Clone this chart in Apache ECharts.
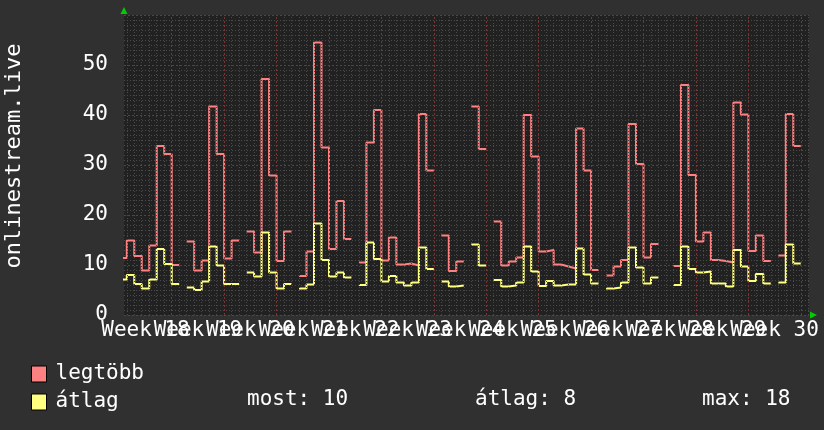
<!DOCTYPE html>
<html>
<head>
<meta charset="utf-8">
<script src="https://cdn.jsdelivr.net/npm/echarts@6/dist/echarts.min.js"></script>
<style>
html,body{margin:0;padding:0;background:#303030;}
#c{width:824px;height:430px;}
</style>
</head>
<body>
<div id="c"></div>
<script>
// daily values, index = day (day 0 starts at the week-18 boundary)
const legtobb = [11.4,14.9,11.8,8.9,13.9,33.8,32.2,10.0,null,
  14.7,8.9,10.9,41.7,32.2,11.3,14.9,null,
  16.7,12.5,47.2,27.9,10.8,16.7,null,
  7.8,12.7,54.5,33.5,13.2,22.8,15.2,null,
  10.5,34.5,41.0,10.9,15.5,10.1,10.3,9.9,40.2,28.9,null,
  15.9,8.8,10.7,null,
  41.7,33.2,null,
  18.7,9.9,10.7,11.5,40.0,31.7,12.7,13.0,10.1,9.7,9.3,37.3,28.9,9.0,null,
  7.9,9.7,11.0,38.2,30.2,11.5,14.2,null,null,
  9.8,46.0,28.0,14.7,16.5,11.0,10.8,10.5,42.5,40.1,12.8,15.9,10.8,null,
  11.9,40.2,33.8];
const atlag = [7.1,8.0,6.2,5.3,7.1,13.2,10.2,6.2,null,
  5.5,5.0,6.7,13.7,9.9,6.2,6.2,null,
  8.5,7.7,16.5,8.5,5.3,6.2,null,
  5.3,6.1,18.3,11.0,7.7,8.5,7.5,null,
  6.0,14.5,11.2,6.7,7.8,6.5,5.9,6.5,13.5,9.2,null,
  6.7,5.7,5.9,null,
  14.1,9.9,null,
  7.0,5.7,5.9,6.5,13.7,8.7,5.8,6.8,5.9,6.1,6.1,13.3,8.1,6.3,null,
  5.3,5.5,6.5,13.5,9.5,6.3,7.5,null,null,
  6.0,13.7,9.2,8.5,8.7,6.3,6.3,5.7,13.0,9.7,6.8,8.2,6.3,null,
  6.5,14.1,10.3];
const weekLabels = ['Week 18','Week 19','Week 20','Week 21','Week 22','Week 23','Week 24',
  'Week 25','Week 26','Week 27','Week 28','Week 29','Week 30'];
const weekCenters = weekLabels.map((_, i) => 3.5 + 7 * i);
const weekLines = [7,14,21,28,35,42,49,56,63,70,77,84,91];
const dayLines = [];
for (let d = 1; d <= 92; d++) if (d % 7 !== 0) dayLines.push(d);
const stats = {most: '10', atlag: '8', max: '18'};

function steps(arr) {
  const out = [];
  arr.forEach((v, d) => {
    if (v == null) { out.push([d + 0.5, null]); }
    else { out.push([d, v]); out.push([d + 1, v]); }
  });
  return out;
}

const X_MIN = 0.63, X_MAX = 92.1;
// empty placeholder labels at both ends so that every week label stays visible
const labelValues = [0.7].concat(weekCenters, [92.0]);

const FONT = 'DejaVu Sans Mono';
const chart = echarts.init(document.getElementById('c'), null, {renderer: 'canvas'});
chart.setOption({
  backgroundColor: '#303030',
  animation: false,
  textStyle: {fontFamily: FONT},
  grid: {left: 124, top: 15, width: 685, height: 300, show: true,
         backgroundColor: '#212121', borderWidth: 0,
         containLabel: false, outerBoundsMode: 'none'},
  xAxis: {
    type: 'value', min: X_MIN, max: X_MAX,
    axisLine: {show: false}, axisTick: {show: false}, splitLine: {show: false},
    axisLabel: {
      customValues: labelValues,
      showMinLabel: false, showMaxLabel: false, hideOverlap: false,
      formatter: v => {
        const i = Math.round((v - 3.5) / 7);
        return Math.abs(v - weekCenters[i]) < 0.01 ? weekLabels[i] : '';
      },
      color: '#ffffff', fontFamily: FONT, fontSize: 21, margin: 5
    }
  },
  yAxis: {
    type: 'value', min: 0, max: 60, interval: 10,
    name: 'onlinestream.live', nameLocation: 'middle', nameGap: 99,
    nameTextStyle: {color: '#ffffff', fontFamily: FONT, fontSize: 22, padding: [0, 0, 0, 18]},
    axisLine: {show: false}, axisTick: {show: false},
    axisLabel: {color: '#ffffff', fontFamily: FONT, fontSize: 21, margin: 16,
      formatter: v => (v === 60 ? '' : String(v))},
    splitLine: {show: true, lineStyle: {color: '#7a3434', width: 1, type: [2, 2]}},
    minorTick: {show: false, splitNumber: 10},
    minorSplitLine: {show: true, lineStyle: {color: '#4a4a4a', width: 1, type: [1, 2]}}
  },
  legend: {
    orient: 'vertical', left: 31, top: 363, padding: 0, itemWidth: 15, itemHeight: 16, itemGap: 6,
    icon: 'rect',
    textStyle: {color: '#ffffff', fontFamily: FONT, fontSize: 21, lineHeight: 22, padding: [0,0,0,4]},
    data: [
      {name: 'legtöbb', itemStyle: {color: '#ff8080', borderColor: '#000', borderWidth: 1}},
      {name: 'átlag', itemStyle: {color: '#ffff80', borderColor: '#000', borderWidth: 1}}
    ],
    selectedMode: false
  },
  graphic: [
    {type: 'text', left: 247, top: 389, style: {text: 'most: ' + stats.most, fill: '#fff', font: '21px "DejaVu Sans Mono"'}},
    {type: 'text', left: 475, top: 389, style: {text: 'átlag: ' + stats.atlag, fill: '#fff', font: '21px "DejaVu Sans Mono"'}},
    {type: 'text', left: 702, top: 389, style: {text: 'max: ' + stats.max, fill: '#fff', font: '21px "DejaVu Sans Mono"'}},
    {type: 'polygon', shape: {points: [[120.5,14],[127.5,14],[124,7]]}, style: {fill: '#00cc00'}},
    {type: 'polygon', shape: {points: [[810,311.5],[810,318.5],[817,315]]}, style: {fill: '#00cc00'}}
  ],
  series: [
    {
      type: 'line', name: 'grid', data: [], z: 1, silent: true,
      markLine: {
        silent: true, symbol: ['none', 'none'], animation: false,
        label: {show: false}, emphasis: {disabled: true},
        data: dayLines.map(v => ({xAxis: v, lineStyle: {color: '#4a4a4a', width: 1, type: [1, 2]}}))
          .concat(weekLines.map(v => ({xAxis: v, lineStyle: {color: '#7a3434', width: 1, type: [2, 2]}})))
      }
    },
    {
      type: 'line', name: 'legtöbb', data: steps(legtobb), showSymbol: false, z: 3,
      lineStyle: {color: '#ff8080', width: 2}, itemStyle: {color: '#ff8080'},
      connectNulls: false, emphasis: {disabled: true}
    },
    {
      type: 'line', name: 'átlag', data: steps(atlag), showSymbol: false, z: 4,
      lineStyle: {color: '#ffff80', width: 2}, itemStyle: {color: '#ffff80'},
      connectNulls: false, emphasis: {disabled: true}
    }
  ]
});
</script>
</body>
</html>
